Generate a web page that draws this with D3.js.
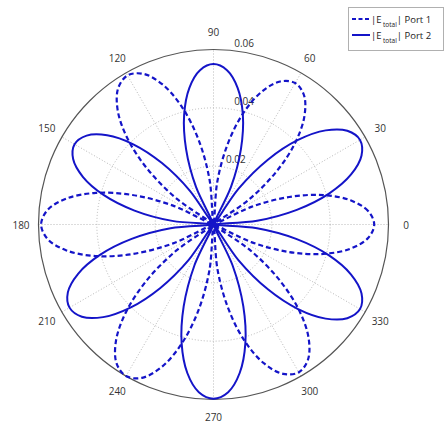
<!DOCTYPE html>
<html>
<head>
<meta charset="utf-8">
<script src="https://cdn.jsdelivr.net/npm/d3@7"></script>
<style>
  body { margin: 0; background: #fff; }
  text { font-family: "Open Sans", "Liberation Sans", sans-serif; }
</style>
</head>
<body>
<svg id="chart" width="444" height="426"></svg>
<script>
// Sample angles in degrees (counter-clockwise from east)
const angleDeg = [0,5,10,15,20,25,30,35,40,45,50,55,60,65,70,75,80,85,90,95,100,105,110,115,
  120,125,130,135,140,145,150,155,160,165,170,175,180,185,190,195,200,205,210,215,220,225,230,235,
  240,245,250,255,260,265,270,275,280,285,290,295,300,305,310,315,320,325,330,335,340,345,350,355];

// |E_total| magnitude, Port 1
const port1 = [0.0551,0.0532,0.0477,0.0390,0.0276,0.0143,0,
  0.0145,0.0280,0.0396,0.0485,0.0541,0.0560,0.0541,0.0485,0.0396,0.0280,0.0145,0,
  0.0153,0.0295,0.0417,0.0511,0.0570,0.0590,0.0570,0.0511,0.0417,0.0295,0.0153,0,
  0.0153,0.0296,0.0418,0.0512,0.0571,0.0591,0.0571,0.0512,0.0418,0.0296,0.0153,0,
  0.0155,0.0300,0.0424,0.0520,0.0580,0.0600,0.0580,0.0520,0.0424,0.0300,0.0155,0,
  0.0152,0.0293,0.0414,0.0507,0.0565,0.0585,0.0565,0.0507,0.0414,0.0293,0.0152,0,
  0.0143,0.0276,0.0390,0.0477,0.0532];

// |E_total| magnitude, Port 2
const port2 = [0,0.0150,0.0290,0.0410,0.0502,0.0560,0.0580,0.0560,0.0502,0.0410,0.0290,0.0150,0,
  0.0142,0.0275,0.0389,0.0476,0.0531,0.0550,0.0531,0.0476,0.0389,0.0275,0.0142,0,
  0.0142,0.0275,0.0389,0.0476,0.0531,0.0550,0.0531,0.0476,0.0389,0.0275,0.0142,0,
  0.0148,0.0285,0.0403,0.0494,0.0551,0.0570,0.0551,0.0494,0.0403,0.0285,0.0148,0,
  0.0155,0.0299,0.0422,0.0517,0.0577,0.0597,0.0577,0.0517,0.0422,0.0299,0.0155,0,
  0.0150,0.0290,0.0410,0.0502,0.0560,0.0580,0.0560,0.0502,0.0410,0.0290,0.0150];

const radialTicks = [0.02, 0.04, 0.06];
const radialTickLabels = ["0.02", "0.04", "0.06"];
const angleTicks = [0,30,60,90,120,150,180,210,240,270,300,330];
const spokeAngles = [0,30,60,90,120,150];
const legendLabels = ["Port 1", "Port 2"];

const svg = d3.select("#chart");
const cx = 213.5, cy = 224.5;
const rMax = 0.06;

const r = d3.scaleLinear().domain([0, rMax]).range([0, 175]);
const toRad = d => d * Math.PI / 180;

const g = svg.append("g").attr("transform", `translate(${cx},${cy})`);

// dotted spokes (full diameters)
g.selectAll("line.spoke").data(spokeAngles).enter().append("line")
  .attr("class", "spoke")
  .attr("x1", d => -r(rMax) * Math.cos(toRad(d)))
  .attr("y1", d => r(rMax) * Math.sin(toRad(d)))
  .attr("x2", d => r(rMax) * Math.cos(toRad(d)))
  .attr("y2", d => -r(rMax) * Math.sin(toRad(d)))
  .attr("stroke", "#b8b8b8").attr("stroke-width", 1)
  .attr("stroke-dasharray", "1,2");

// dotted inner rings
g.selectAll("circle.ring").data(radialTicks.filter(v => v < rMax)).enter().append("circle")
  .attr("class", "ring")
  .attr("r", d => r(d))
  .attr("fill", "none")
  .attr("stroke", "#b8b8b8").attr("stroke-width", 1)
  .attr("stroke-dasharray", "1,2");

// solid outer ring
g.append("circle").attr("r", r(rMax))
  .attr("fill", "none").attr("stroke", "#555").attr("stroke-width", 1.2);

// angle labels
g.selectAll("text.ang").data(angleTicks).enter().append("text")
  .attr("class", "ang")
  .attr("x", d => r(rMax * 1.1) * Math.cos(toRad(d)))
  .attr("y", d => -r(rMax * 1.1) * Math.sin(toRad(d)))
  .attr("text-anchor", "middle").attr("dominant-baseline", "central")
  .attr("font-size", 10).attr("fill", "#333")
  .text(d => d);

// radial labels along the 82 degree ray
g.selectAll("text.rad").data(radialTicks).enter().append("text")
  .attr("class", "rad")
  .attr("x", (d, i) => r(d + 0.001) * Math.cos(toRad(82)) + (i === 2 ? -4 : 4))
  .attr("y", d => -r(d + 0.001) * Math.sin(toRad(82)) - 5)
  .attr("text-anchor", "start").attr("dominant-baseline", "central")
  .attr("font-size", 10).attr("fill", "#333")
  .text((d, i) => radialTickLabels[i]);

// pattern curves
const radial = d3.lineRadial()
  .angle((d, i) => toRad(90 - angleDeg[i]))
  .radius(d => r(d))
  .curve(d3.curveCatmullRomClosed.alpha(0.5));

const blue = "#1414c8";
g.append("path").datum(port1)
  .attr("d", radial)
  .attr("fill", "none").attr("stroke", blue).attr("stroke-width", 2.2)
  .attr("stroke-dasharray", "5,3");
g.append("path").datum(port2)
  .attr("d", radial)
  .attr("fill", "none").attr("stroke", blue).attr("stroke-width", 2);

// legend
const lg = svg.append("g");
lg.append("rect").attr("x", 348.5).attr("y", 7.5).attr("width", 95).attr("height", 43)
  .attr("fill", "#fff").attr("stroke", "#b0b0b0").attr("stroke-width", 1);
legendLabels.forEach((lab, i) => {
  const y = 19 + i * 16;
  lg.append("line").attr("x1", 352).attr("x2", 370).attr("y1", y).attr("y2", y)
    .attr("stroke", blue).attr("stroke-width", 2)
    .attr("stroke-dasharray", i === 0 ? "4,2.5" : null);
  const t = lg.append("text").attr("x", 371).attr("y", y + 3.5)
    .attr("font-size", 9.5).attr("fill", "#222");
  t.append("tspan").text("|E");
  t.append("tspan").attr("dx", 1.5).attr("dy", 4).attr("font-size", 6.5).text("total");
  t.append("tspan").attr("dy", -4).text("| " + lab);
});
</script>
</body>
</html>
